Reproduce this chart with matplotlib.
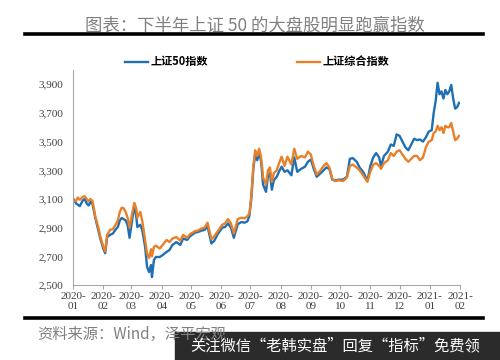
import matplotlib
matplotlib.use("Agg")
import matplotlib.pyplot as plt
import matplotlib.dates as mdates
import matplotlib.ticker as mticker
import pandas as pd

# ---------------------------------------------------------------------------
# data
dates = [
    "2020-01-02", "2020-01-04", "2020-01-06", "2020-01-08", "2020-01-11", "2020-01-13",
    "2020-01-15", "2020-01-17", "2020-01-19", "2020-01-21", "2020-01-24", "2020-01-27",
    "2020-01-29", "2020-02-01", "2020-02-03", "2020-02-05", "2020-02-08", "2020-02-11",
    "2020-02-14", "2020-02-16", "2020-02-18", "2020-02-20", "2020-02-22", "2020-02-24",
    "2020-02-26", "2020-02-28", "2020-03-02", "2020-03-04", "2020-03-06", "2020-03-07",
    "2020-03-10", "2020-03-12", "2020-03-15", "2020-03-17", "2020-03-19", "2020-03-21",
    "2020-03-22", "2020-03-24", "2020-03-26", "2020-03-30", "2020-04-02", "2020-04-06",
    "2020-04-09", "2020-04-12", "2020-04-16", "2020-04-20", "2020-04-23", "2020-04-27",
    "2020-04-30", "2020-05-05", "2020-05-08", "2020-05-12", "2020-05-15", "2020-05-18",
    "2020-05-22", "2020-05-25", "2020-05-28", "2020-06-02", "2020-06-05", "2020-06-08",
    "2020-06-11", "2020-06-14", "2020-06-18", "2020-06-22", "2020-06-25", "2020-06-28",
    "2020-06-30", "2020-07-02", "2020-07-04", "2020-07-06", "2020-07-08", "2020-07-10",
    "2020-07-12", "2020-07-14", "2020-07-17", "2020-07-19", "2020-07-21", "2020-07-23",
    "2020-07-25", "2020-07-28", "2020-07-31", "2020-08-02", "2020-08-05", "2020-08-08",
    "2020-08-12", "2020-08-15", "2020-08-18", "2020-08-22", "2020-08-26", "2020-08-29",
    "2020-09-01", "2020-09-04", "2020-09-07", "2020-09-11", "2020-09-14", "2020-09-17",
    "2020-09-20", "2020-09-23", "2020-09-26", "2020-09-30", "2020-10-04", "2020-10-08",
    "2020-10-11", "2020-10-14", "2020-10-18", "2020-10-21", "2020-10-25", "2020-10-29",
    "2020-11-01", "2020-11-04", "2020-11-07", "2020-11-10", "2020-11-12", "2020-11-15",
    "2020-11-19", "2020-11-22", "2020-11-25", "2020-11-28", "2020-12-01", "2020-12-04",
    "2020-12-07", "2020-12-10", "2020-12-13", "2020-12-16", "2020-12-19", "2020-12-22",
    "2020-12-25", "2020-12-28", "2020-12-31", "2021-01-03", "2021-01-05", "2021-01-07",
    "2021-01-09", "2021-01-11", "2021-01-13", "2021-01-15", "2021-01-17", "2021-01-19",
    "2021-01-21", "2021-01-23", "2021-01-25", "2021-01-27", "2021-01-29", "2021-01-31",
]

sz50 = [
    3095, 3070, 3060, 3050, 3090, 3100, 3070, 3055, 3080, 3065, 2965, 2880,
    2825, 2755, 2722, 2835, 2850, 2860, 2890, 2905, 2950, 2968, 2960, 2950,
    2920, 2830, 2970, 3060, 2970, 2905, 2920, 2885, 2766, 2627, 2591, 2640,
    2556, 2675, 2696, 2696, 2710, 2731, 2745, 2780, 2800, 2780, 2825, 2815,
    2840, 2865, 2870, 2880, 2885, 2910, 2790, 2810, 2850, 2900, 2905, 2930,
    2900, 2830, 2925, 2940, 2935, 2945, 2985, 3110, 3310, 3420, 3370, 3425,
    3360, 3200, 3150, 3260, 3280, 3165, 3230, 3255, 3300, 3325, 3290, 3300,
    3265, 3390, 3290, 3310, 3325, 3360, 3375, 3310, 3255, 3280, 3300, 3320,
    3310, 3235, 3230, 3235, 3235, 3255, 3380, 3385, 3360, 3320, 3285, 3225,
    3330, 3390, 3420, 3390, 3330, 3400, 3430, 3480, 3470, 3550, 3540, 3500,
    3460, 3440, 3480, 3520, 3510, 3515, 3500, 3530, 3570, 3580, 3700, 3780,
    3910, 3830, 3850, 3800, 3860, 3830, 3850, 3895, 3800, 3730, 3740, 3770,
]

sh_comp = [
    3090, 3085, 3110, 3095, 3115, 3120, 3100, 3085, 3100, 3085, 2975, 2900,
    2840, 2770, 2735, 2850, 2885, 2890, 2925, 2950, 3010, 3040, 3035, 3010,
    2970, 2900, 3010, 3073, 3030, 2970, 3010, 2950, 2815, 2720, 2689, 2750,
    2700, 2766, 2775, 2755, 2780, 2815, 2800, 2825, 2835, 2810, 2850, 2830,
    2855, 2875, 2880, 2895, 2900, 2935, 2820, 2840, 2870, 2920, 2930, 2960,
    2930, 2860, 2960, 2970, 2965, 2980, 3000, 3130, 3330, 3440, 3400, 3450,
    3390, 3250, 3200, 3300, 3320, 3220, 3280, 3300, 3360, 3395, 3330, 3395,
    3340, 3450, 3380, 3400, 3390, 3430, 3410, 3330, 3270, 3300, 3330, 3350,
    3320, 3240, 3225, 3230, 3225, 3250, 3330, 3340, 3320, 3300, 3260, 3220,
    3290, 3340, 3350, 3330, 3310, 3350, 3370, 3420, 3400, 3430, 3440, 3410,
    3380, 3360, 3380, 3400, 3400, 3370, 3390, 3460, 3500, 3510, 3560, 3570,
    3610, 3580, 3600, 3560, 3610, 3600, 3600, 3630, 3570, 3510, 3520, 3540,
]

series_names = ["上证50指数", "上证综合指数"]
series_colors = ["#1f6fb2", "#e8802a"]

yticks = [2500, 2700, 2900, 3100, 3300, 3500, 3700, 3900]

title = "图表：下半年上证 50 的大盘股明显跑赢指数"
source = "资料来源：Wind，泽平宏观"
banner = "关注微信“老韩实盘”回复“指标”免费领"

#####################################################################################################################

plt.rcParams["font.family"] = ["Noto Sans CJK SC", "DejaVu Sans"]

df = pd.DataFrame({"date": pd.to_datetime(dates), "sz50": sz50, "sh": sh_comp})

fig = plt.figure(figsize=(5, 3.6), dpi=100)
ax = fig.add_axes([0.146, 0.208, 0.774, 0.598])

ax.plot(df["date"], df["sz50"], color=series_colors[0], lw=1.7, label=series_names[0])
ax.plot(df["date"], df["sh"], color=series_colors[1], lw=1.7, label=series_names[1])

ax.set_ylim(2500, 4000)
ax.set_yticks(yticks)
ax.yaxis.set_major_formatter(mticker.StrMethodFormatter("{x:,.0f}"))
ax.set_xlim(pd.Timestamp("2020-01-01"), pd.Timestamp("2021-02-01"))
ax.xaxis.set_major_locator(mdates.MonthLocator())
ax.xaxis.set_major_formatter(mdates.DateFormatter("%Y-\n%m"))

for side in ("top", "right"):
    ax.spines[side].set_visible(False)
for side in ("left", "bottom"):
    ax.spines[side].set_color("#a6a6a6")
    ax.spines[side].set_linewidth(0.8)

ax.tick_params(axis="both", colors="#a6a6a6", length=3, width=0.8, labelcolor="#404040")
ax.tick_params(axis="y", length=0, pad=7)
ax.tick_params(axis="x", pad=2)
for lab in ax.get_xticklabels() + ax.get_yticklabels():
    lab.set_fontfamily(["Liberation Serif", "DejaVu Serif"])
    lab.set_fontsize(8)
for lab in ax.get_xticklabels():
    lab.set_linespacing(1.2)

leg = fig.legend(loc="center", bbox_to_anchor=(0.515, 0.828), ncol=2, frameon=False,
                 handlelength=2.0, handletextpad=0.3, columnspacing=8.0,
                 prop={"weight": "bold", "size": 8})

# title, rules, source
fig.text(0.51, 0.93, title, ha="center", va="center", fontsize=12.5, color="#808080",
         fontweight="light")
fig.add_artist(plt.Line2D([0.05, 0.966], [0.905, 0.905], color="black", lw=2.6))
fig.add_artist(plt.Line2D([0.05, 0.966], [0.117, 0.117], color="black", lw=2.6))
fig.text(0.075, 0.072, source, ha="left", va="center", fontsize=11, color="#808080", style="italic")

# watermark banner
fig.add_artist(plt.Rectangle((0.35, 0.0), 0.65, 0.078, color="#2b2b2b", transform=fig.transFigure))
fig.text(0.67, 0.038, banner, ha="center", va="center", fontsize=11, color="white")

plt.savefig("out.png", dpi=100)
plt.close(fig)
